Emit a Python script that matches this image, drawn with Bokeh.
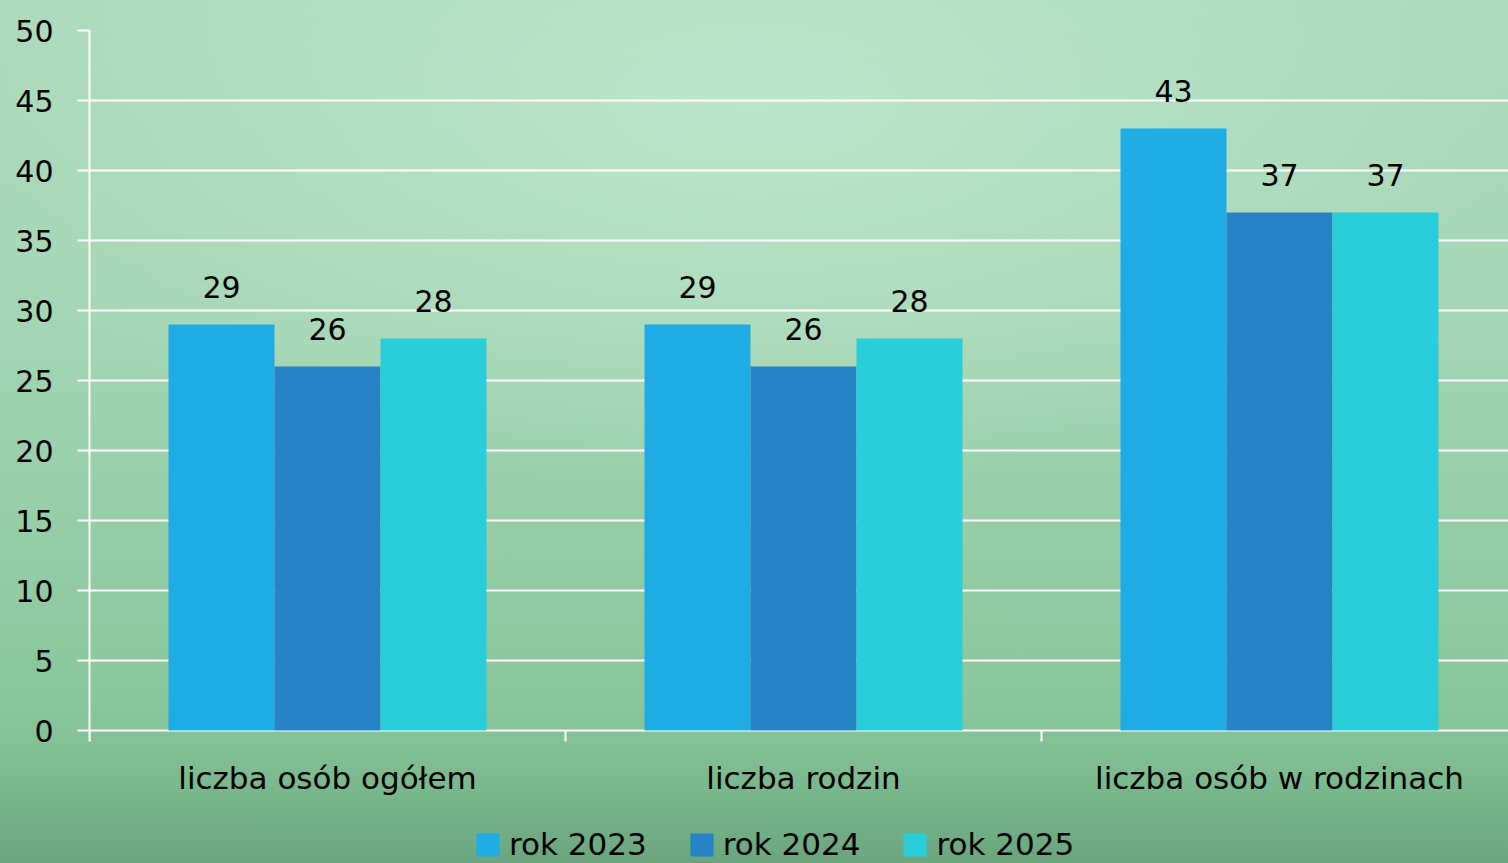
from bokeh.plotting import figure
from bokeh.models import ColumnDataSource, Range1d, FixedTicker, LabelSet, Legend, LegendItem
from bokeh.transform import dodge
from bokeh.core.properties import value
from bokeh.embed import file_html
from bokeh.resources import INLINE

categories = ["liczba osób ogółem", "liczba rodzin", "liczba osób w rodzinach"]
years = ["rok 2023", "rok 2024", "rok 2025"]
v2023 = [29, 29, 43]
v2024 = [26, 26, 37]
v2025 = [28, 28, 37]
y_ticks = [0, 5, 10, 15, 20, 25, 30, 35, 40, 45, 50]
colors = ["#1FABE3", "#2683C6", "#29CED9"]

FONT = "DejaVu Sans"
W, H = 1508, 863
LEFT, TOP = 89, 30
ZERO_Y = 730            # pixel row of value 0
PX_PER_UNIT = 14.0      # 700 px for 0..50
cat_px = 476.0
bar_w = 106.0 / cat_px
y_lo = -(H - ZERO_Y) / PX_PER_UNIT      # frame extends to the figure bottom
tick_len = 11 / PX_PER_UNIT             # category boundary ticks below the base line

centers = [i + 0.5 for i in range(len(categories))]
src = ColumnDataSource(dict(x=centers, y2023=v2023, y2024=v2024, y2025=v2025,
                            t2023=[str(v) for v in v2023],
                            t2024=[str(v) for v in v2024],
                            t2025=[str(v) for v in v2025],
                            base=[0] * len(categories), cat=categories))
n_b = len(categories) + 1
bsrc = ColumnDataSource(dict(bx=[float(i) for i in range(n_b)], y0=[0.0] * n_b,
                             y1=[-tick_len] * n_b))

p = figure(width=W, height=H, output_backend="svg", toolbar_location=None,
           x_range=Range1d(0, (W - LEFT) / cat_px), y_range=Range1d(y_lo, 50),
           min_border_left=LEFT, min_border_right=0, min_border_top=TOP,
           min_border_bottom=0)
p.background_fill_alpha = 0
p.border_fill_alpha = 0
p.outline_line_color = None
p.styles = {
    "background": "radial-gradient(ellipse 55% 45% at 50% 12%, rgba(198,234,210,0.7) 0%, rgba(198,234,210,0) 100%), "
                  "linear-gradient(to bottom, #abd9ba 0%, #a5d6b5 35%, #96cea8 60%, #8ac79c 80%, #84c197 86%, #78b68b 92%, #6ba57f 100%)"
}

p.xaxis.visible = False
p.xgrid.grid_line_color = None

# horizontal grid (the 0 line is the category base line)
p.ygrid.ticker = FixedTicker(ticks=y_ticks)
p.ygrid.grid_line_color = "white"
p.ygrid.grid_line_width = 2

# category boundary ticks under the base line
p.segment(x0="bx", y0="y0", x1="bx", y1="y1", source=bsrc, line_color="white", line_width=2)

renderers = []
for col, off, c in zip(["y2023", "y2024", "y2025"], [-bar_w, 0, bar_w], colors):
    r = p.vbar(x=dodge("x", off, range=p.x_range), top=col, width=bar_w, source=src,
               fill_color=c, line_color=None)
    renderers.append(r)
    lab = LabelSet(x=dodge("x", off, range=p.x_range), y=col, text="t" + col[1:], source=src,
                   text_align="center", text_baseline="middle", y_offset=38,
                   text_font=value(FONT), text_font_size="30px", text_color="black")
    p.add_layout(lab)

# category labels
p.add_layout(LabelSet(x="x", y="base", text="cat", source=src, text_align="center",
                      text_baseline="middle", y_offset=-47, text_font=value(FONT),
                      text_font_size="31px", text_color="black"))

# y axis
ya = p.yaxis[0]
ya.ticker = FixedTicker(ticks=y_ticks)
ya.bounds = (-tick_len, 50)
ya.axis_line_color = "white"
ya.axis_line_width = 2
ya.major_tick_line_color = "white"
ya.major_tick_line_width = 2
ya.major_tick_out = 12
ya.major_tick_in = 0
ya.minor_tick_line_color = None
ya.major_label_standoff = 24
ya.major_label_text_font = FONT
ya.major_label_text_font_size = "30px"
ya.major_label_text_color = "black"

legend = Legend(items=[LegendItem(label=y, renderers=[r]) for y, r in zip(years, renderers)],
                location=(384, 1), orientation="horizontal",
                glyph_width=29, glyph_height=29, label_standoff=7, spacing=40,
                padding=0, margin=0, border_line_alpha=0, background_fill_alpha=0,
                label_text_font=FONT, label_text_font_size="31px", label_text_color="black")
p.add_layout(legend)

open("out.html", "w").write(file_html(p, INLINE))
